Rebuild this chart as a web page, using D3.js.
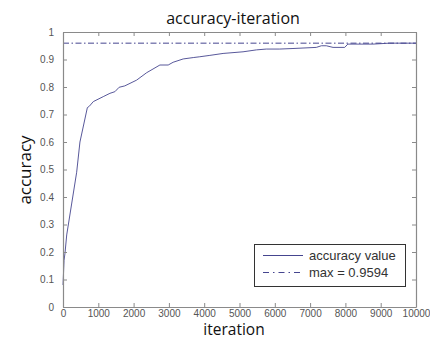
<html>
<script src="https://d3js.org/d3.v7.min.js" charset="utf-8"></script>

<style>
body {
  margin: 0;
  background: white;
}

.tick-label {
  fill: #555;
  font: 10px "Liberation Sans", Arial, sans-serif;
}

.big-label {
  fill: #111;
  font-family: "Open Sans", "Noto Sans", sans-serif;
}
</style>

<body>
</body>

<script>

// values
var iterations = [0, 30, 57, 105, 387, 480, 690, 745, 860, 1140, 1330, 1470, 1590, 1750, 2085, 2370, 2745, 2980, 3120, 3405, 3690, 3875, 4160, 4535, 5100, 5480, 5760, 6140, 6515, 7175, 7320, 7460, 7650, 7980, 8070, 8780, 9250, 10000];
var accuracy = [0.08, 0.17, 0.196, 0.262, 0.49, 0.6, 0.725, 0.73, 0.747, 0.765, 0.777, 0.783, 0.799, 0.804, 0.825, 0.852, 0.88, 0.88, 0.89, 0.902, 0.907, 0.91, 0.915, 0.922, 0.928, 0.935, 0.938, 0.938, 0.94, 0.944, 0.95, 0.95, 0.944, 0.944, 0.956, 0.956, 0.9594, 0.9594];
var maxValue = 0.9594;
var xTicks = [0, 1000, 2000, 3000, 4000, 5000, 6000, 7000, 8000, 9000, 10000];
var yTicks = [0, 0.1, 0.2, 0.3, 0.4, 0.5, 0.6, 0.7, 0.8, 0.9, 1];
var legendLabels = ["accuracy value", "max = 0.9594"];

drawChart();

function drawChart() {
	var screen_w = 430;
	var screen_h = 340;
	var left = 63, right = 416, top = 32, bottom = 307;
	var lineColor = "#45458f";
	var axisColor = "#8a8a8a";
	var dashDot = "6,2.5,1.5,2.5";

	var svg = d3.select("body").append("svg")
		.attr("width", screen_w)
		.attr("height", screen_h);

	var x = d3.scaleLinear().domain([0, 10000]).range([left, right]);
	var y = d3.scaleLinear().domain([0, 1]).range([bottom, top]);

	var points = iterations.map(function(d, i) { return [d, accuracy[i]]; });

	// max line
	svg.append("line")
		.attr("x1", x(0))
		.attr("x2", x(10000))
		.attr("y1", y(maxValue))
		.attr("y2", y(maxValue))
		.style("stroke", lineColor)
		.style("stroke-width", 1)
		.style("stroke-dasharray", dashDot);

	// accuracy curve
	var line = d3.line()
		.x(function(d) { return x(d[0]); })
		.y(function(d) { return y(d[1]); });

	svg.append("path")
		.datum(points)
		.attr("d", line)
		.style("fill", "none")
		.style("stroke", lineColor)
		.style("stroke-width", 0.9);

	// axes, ticks inward on all four sides
	var xBottom = d3.axisBottom(x).tickValues(xTicks).tickSizeInner(-4).tickSizeOuter(0).tickPadding(3).tickFormat(d3.format("d"));
	var xTop = d3.axisTop(x).tickValues(xTicks).tickSizeInner(-4).tickSizeOuter(0).tickFormat("");
	var yLeft = d3.axisLeft(y).tickValues(yTicks).tickSizeInner(-4).tickSizeOuter(0).tickPadding(9).tickFormat(function(d) { return d === 0 || d === 1 ? d : d.toFixed(1); });
	var yRight = d3.axisRight(y).tickValues(yTicks).tickSizeInner(-4).tickSizeOuter(0).tickFormat("");

	var gb = svg.append("g").attr("transform", "translate(0," + bottom + ")").call(xBottom);
	var gt = svg.append("g").attr("transform", "translate(0," + top + ")").call(xTop);
	var gl = svg.append("g").attr("transform", "translate(" + left + ",0)").call(yLeft);
	var gr = svg.append("g").attr("transform", "translate(" + right + ",0)").call(yRight);

	[gb, gt, gl, gr].forEach(function(g) {
		g.attr("font-size", null).attr("font-family", null);
		g.select(".domain").style("stroke", axisColor).style("stroke-width", 1.2);
		g.selectAll(".tick line").style("stroke", axisColor);
		g.selectAll(".tick text").attr("class", "tick-label");
	});

	// title and axis labels
	svg.append("text")
		.attr("class", "big-label")
		.attr("x", 233)
		.attr("y", 24)
		.attr("text-anchor", "middle")
		.style("font-size", "16px")
		.text("accuracy-iteration");

	svg.append("text")
		.attr("class", "big-label")
		.attr("x", 234)
		.attr("y", 335)
		.attr("text-anchor", "middle")
		.style("font-size", "15.5px")
		.text("iteration");

	svg.append("text")
		.attr("class", "big-label")
		.attr("transform", "translate(31,170) rotate(-90)")
		.attr("text-anchor", "middle")
		.style("font-size", "17px")
		.text("accuracy");

	// legend
	var legend = svg.append("g");
	legend.append("rect")
		.attr("x", 254.5)
		.attr("y", 244.5)
		.attr("width", 151)
		.attr("height", 42)
		.style("fill", "white")
		.style("stroke", "#333")
		.style("stroke-width", 1);

	var rows = legend.selectAll(".row")
		.data(legendLabels)
		.enter().append("g")
		.attr("transform", function(d, i) { return "translate(0," + (255.5 + i * 17) + ")"; });

	rows.append("line")
		.attr("x1", 263)
		.attr("x2", 303)
		.style("stroke", lineColor)
		.style("stroke-width", 1)
		.style("stroke-dasharray", function(d, i) { return i === 0 ? null : "6,4,1.5,4"; });

	rows.append("text")
		.attr("x", 309)
		.attr("dy", ".35em")
		.style("fill", "#333")
		.style("font", "13px 'Liberation Sans', Arial, sans-serif")
		.text(function(d) { return d; });
}

</script>

</html>
